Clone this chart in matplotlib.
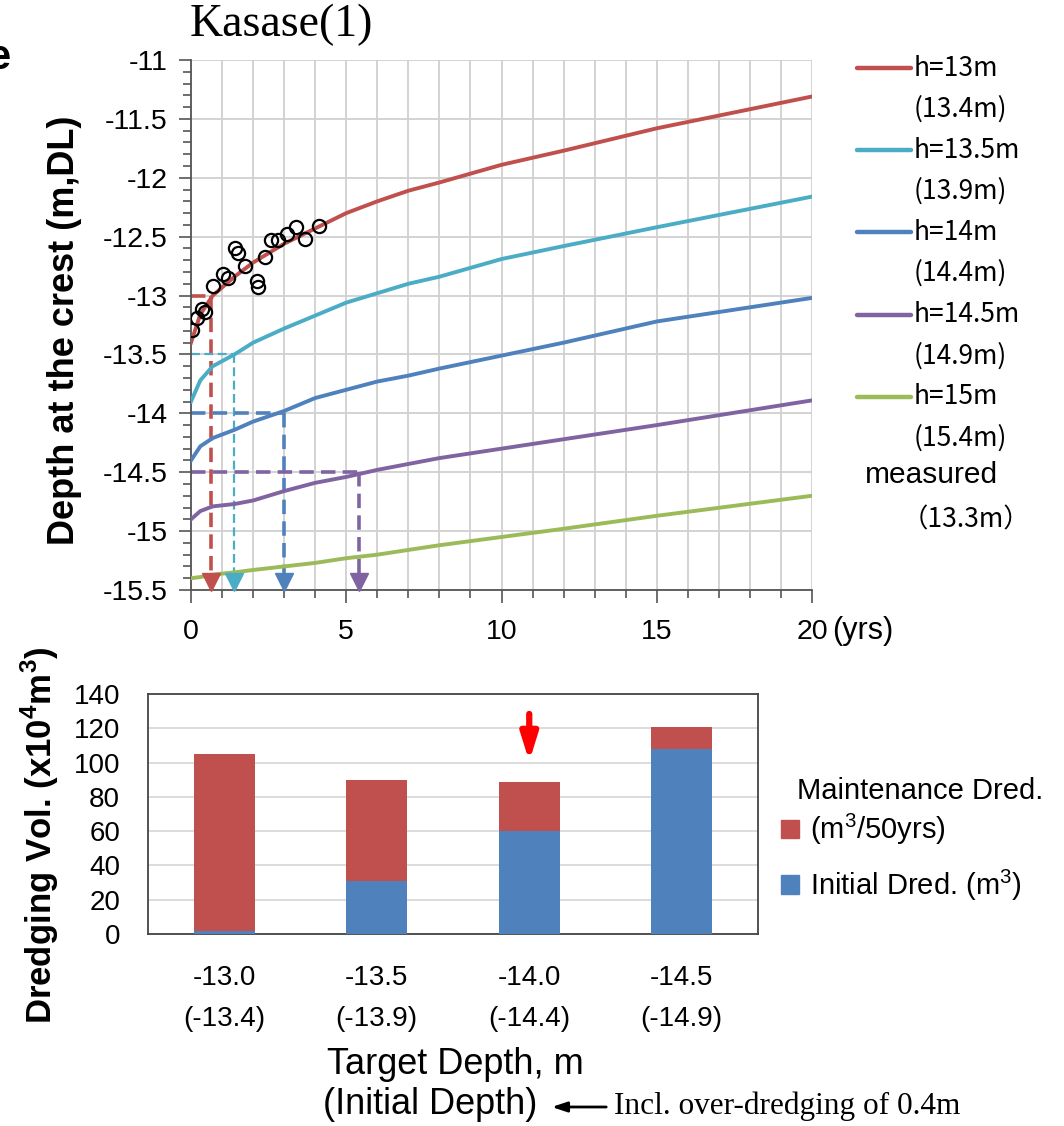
import matplotlib
matplotlib.use("Agg")
import matplotlib.pyplot as plt
from matplotlib.lines import Line2D
from matplotlib.patches import Patch
from matplotlib.ticker import MultipleLocator, FormatStrFormatter

plt.rcParams['font.family'] = ['Liberation Sans', 'DejaVu Sans']
plt.rcParams['mathtext.fontset'] = 'custom'
plt.rcParams['mathtext.rm'] = 'Liberation Sans'
plt.rcParams['mathtext.bf'] = 'Liberation Sans:bold'

# ---- upper chart: crest depth vs years ----
years = [0, 0.3, 0.7, 1.4, 2, 3, 4, 5, 6, 7, 8, 10, 12, 15, 20]
h13 = [-13.40, -13.16, -13.00, -12.84, -12.72, -12.56, -12.43, -12.30, -12.20, -12.11, -12.04, -11.89, -11.77, -11.58, -11.31]
h135 = [-13.90, -13.72, -13.60, -13.50, -13.40, -13.28, -13.17, -13.06, -12.98, -12.90, -12.84, -12.69, -12.58, -12.42, -12.16]
h14 = [-14.40, -14.28, -14.21, -14.14, -14.07, -13.98, -13.87, -13.80, -13.73, -13.68, -13.62, -13.51, -13.40, -13.22, -13.02]
h145 = [-14.90, -14.83, -14.79, -14.77, -14.74, -14.66, -14.59, -14.54, -14.48, -14.43, -14.38, -14.30, -14.22, -14.10, -13.89]
h15 = [-15.40, -15.39, -15.37, -15.35, -15.33, -15.30, -15.27, -15.23, -15.20, -15.16, -15.12, -15.05, -14.98, -14.87, -14.70]
curve_labels = ['h=13m\n(13.4m)', 'h=13.5m\n(13.9m)', 'h=14m\n(14.4m)', 'h=14.5m\n(14.9m)', 'h=15m\n(15.4m)']
curve_colors = ['#C0504D', '#4BACC6', '#4F81BD', '#8064A2', '#9BBB59']

meas_yr = [0.02, 0.18, 0.34, 0.45, 0.72, 1.02, 1.18, 1.42, 1.52, 1.74, 2.12, 2.17, 2.38, 2.57, 2.81, 3.10, 3.38, 3.67, 4.13]
meas_dp = [-13.29, -13.19, -13.11, -13.14, -12.92, -12.82, -12.85, -12.60, -12.64, -12.75, -12.88, -12.93, -12.67, -12.53, -12.53, -12.48, -12.42, -12.52, -12.41]

# where each design curve reaches its target depth
targets = [-13.0, -13.5, -14.0, -14.5]
reach_yr = [0.65, 1.38, 3.0, 5.4]

# ---- lower chart: dredging volumes ----
cats = ['-13.0\n(-13.4)', '-13.5\n(-13.9)', '-14.0\n(-14.4)', '-14.5\n(-14.9)']
initial = [1.5, 31, 60, 108]
maint = [103.5, 59, 28.5, 13]

W, H = 1064, 1126
fig = plt.figure(figsize=(W / 100, H / 100), dpi=100)
bold_font = ['Liberation Sans', 'DejaVu Sans']

ax = fig.add_axes([191/W, 1 - 590/H, (812-191)/W, (590-60)/H])
series = [h13, h135, h14, h145, h15]
for vals, c in zip(series, curve_colors):
    ax.plot(years, vals, color=c, lw=2.8, zorder=3)
ax.plot(meas_yr, meas_dp, 'o', mfc='none', mec='black', ms=9.5, mew=1.6, zorder=4)

dash_styles = [(2.6, (4, 2)), (1.6, (4, 2)), (2.6, (4, 2)), (2.6, (4, 2))]
for t, yr, c, (lw, dsh) in zip(targets, reach_yr, curve_colors[:4], dash_styles):
    ax.plot([0, yr], [t, t], color=c, lw=lw, ls=(0, dsh), zorder=2)
    ax.plot([yr, yr], [t, -15.38], color=c, lw=lw, ls=(0, dsh), zorder=2)
    ax.plot(yr, -15.43, marker='v', color=c, ms=13, clip_on=False, zorder=5)

ax.set_xlim(0, 20)
ax.set_ylim(-15.5, -11)
ax.xaxis.set_major_locator(MultipleLocator(5))
ax.xaxis.set_minor_locator(MultipleLocator(1))
ax.yaxis.set_major_locator(MultipleLocator(0.5))
ax.yaxis.set_minor_locator(MultipleLocator(0.1))
ax.yaxis.set_major_formatter(FormatStrFormatter('%g'))
ax.grid(which='both', axis='x', color='#D0D0D0', lw=1.3)
ax.grid(which='major', axis='y', color='#D0D0D0', lw=1.3)
for s in ['top', 'right']:
    ax.spines[s].set_visible(False)
for s in ['left', 'bottom']:
    ax.spines[s].set_color('#555555')
    ax.spines[s].set_linewidth(1.3)
ax.tick_params(which='major', direction='out', length=9, width=1.2, color='#555555', labelsize=20.5)
ax.tick_params(which='minor', direction='out', length=6, width=1.2, color='#555555')
ax.tick_params(axis='x', which='major', pad=12)
ax.tick_params(axis='y', which='major', pad=8)
ax.set_axisbelow(True)
fig.text(65/W, 1 - 330/H, 'Depth at the crest (m,DL)', fontsize=26, fontweight='bold',
         rotation=90, ha='center', va='center', family=bold_font)
fig.text(832/W, 1 - 631/H, '(yrs)', fontsize=22, ha='left', va='center')
fig.text(190/W, 1 - 25/H, 'Kasase(1)', fontsize=33, family=['Liberation Serif', 'DejaVu Serif'],
         ha='left', va='center')
fig.text(-0.012, 1 - 58/H, 'e', fontsize=30, fontweight='bold', ha='left', va='center',
         family=bold_font)

# legend drawn at figure positions
leg_font = ['Noto Sans CJK JP', 'DejaVu Sans']
for i, (lab, c) in enumerate(zip(curve_labels, curve_colors)):
    y0 = 1 - (68 + 82.2 * i) / H
    fig.add_artist(Line2D([857/W, 911/W], [y0, y0], color=c, lw=3.2, solid_capstyle='round'))
    first, second = lab.split('\n')
    fig.text(914/W, y0, first, fontsize=19, va='center', ha='left', family=leg_font)
    fig.text(914/W, y0 - 41/H, second, fontsize=19, va='center', ha='left', family=leg_font)
fig.text(865/W, 1 - 475/H, 'measured', fontsize=21.5, va='center', ha='left', family=bold_font)
fig.text(902/W, 1 - 520/H, '（13.3m）', fontsize=19, va='center', ha='left', family=leg_font)

# ---- lower chart ----
bx = fig.add_axes([148/W, 1 - 934/H, (758-148)/W, (934-694)/H])
xpos = range(len(cats))
bx.bar(xpos, initial, width=0.4, color='#4F81BD', zorder=3)
bx.bar(xpos, maint, width=0.4, bottom=initial, color='#C0504D', zorder=3)
bx.set_xlim(-0.5, 3.5)
bx.set_ylim(0, 140)
bx.yaxis.set_major_locator(MultipleLocator(20))
bx.grid(axis='y', color='#D9D9D9', lw=1.3)
bx.set_axisbelow(True)
bx.set_xticks(list(xpos))
bx.set_xticklabels(cats)
for lbl in bx.get_xticklabels():
    lbl.set_linespacing(1.75)
bx.tick_params(axis='both', length=0, labelsize=20)
bx.tick_params(axis='x', pad=22)
bx.tick_params(axis='y', pad=20)
for s in bx.spines.values():
    s.set_color('#444444')
    s.set_linewidth(1.3)
fig.text(40/W, 1 - 835/H, 'Dredging Vol. (x10$^{\\mathbf{4}}$m$^{\\mathbf{3}}$)', fontsize=25,
         fontweight='bold', rotation=90, ha='center', va='center', family=bold_font)
bx.annotate('', xy=(2, 99), xytext=(2, 130),
            arrowprops=dict(arrowstyle='-|>,head_width=0.5,head_length=1.6', color='#FF0000', lw=4.5))

handles = [Patch(color='#C0504D'), Patch(color='#4F81BD')]
fig.legend(handles, ['(m$^3$/50yrs)', 'Initial Dred. (m$^3$)'], loc='upper left',
           bbox_to_anchor=(781/W, 1 - 812/H), frameon=False, borderpad=0, borderaxespad=0,
           handlelength=0.6, handleheight=0.6, handletextpad=0.4, labelspacing=0.7,
           prop={'family': bold_font, 'size': 21})
fig.text(797/W, 1 - 791/H, 'Maintenance Dred.', fontsize=21, va='center', ha='left', family=bold_font)

fig.text(455/W, 1 - 1065/H, 'Target Depth, m', fontsize=26, ha='center', va='center')
fig.text(323/W, 1 - 1105/H, '(Initial Depth)', fontsize=26, ha='left', va='center')
bx.annotate('', xy=(549/W, 1 - 1107/H), xytext=(609/W, 1 - 1107/H),
            xycoords='figure fraction', textcoords='figure fraction', annotation_clip=False,
            arrowprops=dict(arrowstyle='-|>,head_width=0.3,head_length=0.9', color='black', lw=2))
fig.text(614/W, 1 - 1106/H, 'Incl. over-dredging of 0.4m', fontsize=22.5, ha='left', va='center',
         family=['Liberation Serif', 'DejaVu Serif'])

fig.savefig('out.png', dpi=100)
